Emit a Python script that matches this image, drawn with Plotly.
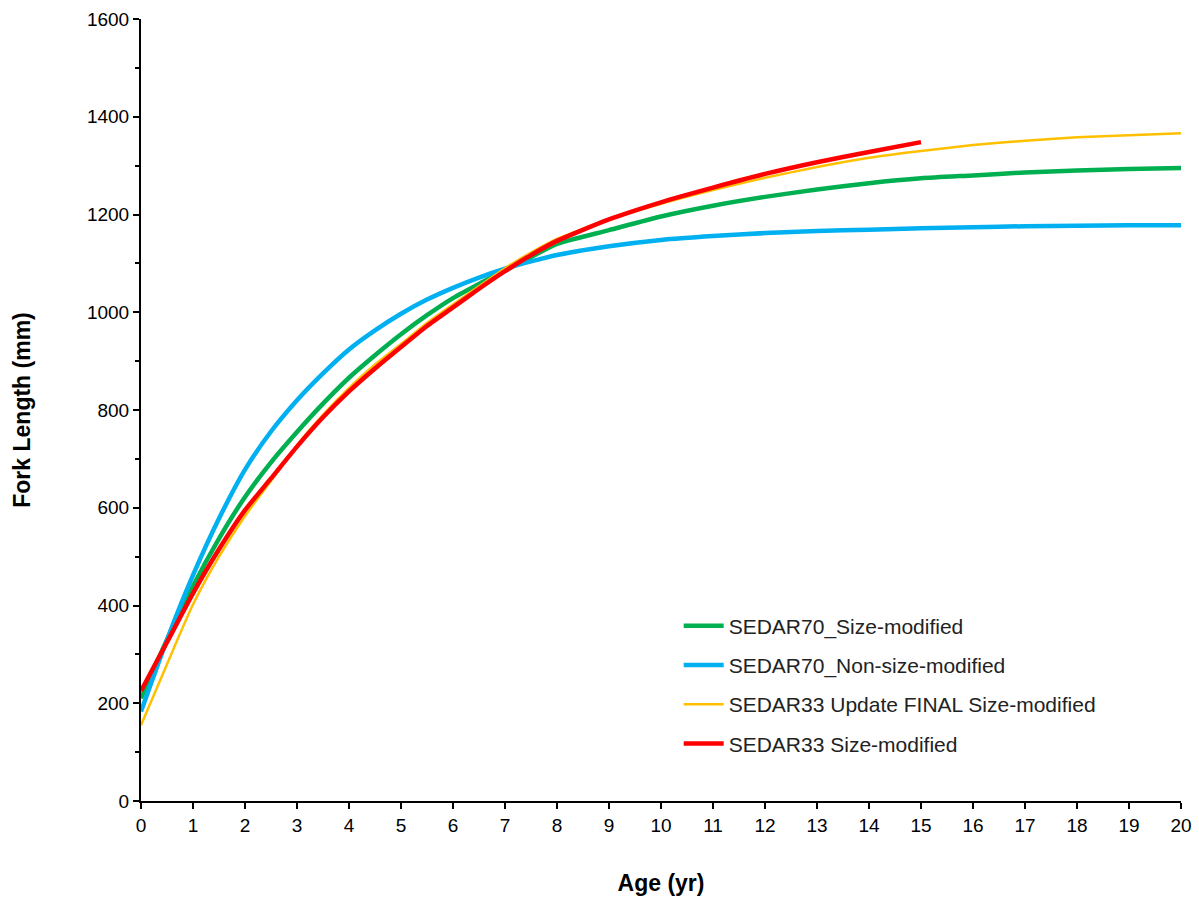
import plotly.graph_objects as go

age_early = [0, 0.5, 1, 1.5, 2, 2.5, 3, 3.5, 4, 4.5, 5, 5.5, 6, 6.5, 7, 7.5, 8,
             9, 10, 11, 12, 13, 14, 15, 16, 17, 18, 19, 20]
age_red = [0, 0.5, 1, 1.5, 2, 2.5, 3, 3.5, 4, 4.5, 5, 5.5, 6, 6.5, 7, 7.5, 8,
           9, 10, 11, 12, 13, 14, 15]

sedar70_size = [210, 330, 440, 537, 622, 693, 755, 813, 866, 912, 955, 994, 1029, 1058, 1085, 1113, 1140,
                1168, 1196, 1218, 1236, 1251, 1264, 1274, 1280, 1286, 1290, 1293, 1295]
sedar70_nonsize = [183, 330, 462, 578, 678, 756, 820, 875, 924, 963, 997, 1026, 1050, 1071, 1089, 1104, 1117,
                   1135, 1148, 1156, 1162, 1166, 1169, 1172, 1174, 1176, 1177, 1178, 1178]
sedar33_update = [155, 280, 402, 500, 583, 655, 728, 790, 845, 893, 935, 978, 1016, 1053, 1090, 1122, 1150,
                  1190, 1222, 1250, 1275, 1297, 1316, 1330, 1342, 1351, 1358, 1362, 1366]
sedar33_size = [225, 325, 425, 515, 595, 660, 725, 785, 838, 885, 929, 972, 1010, 1048, 1084, 1117, 1146,
                1190, 1225, 1255, 1283, 1307, 1328, 1348]

names = ["SEDAR70_Size-modified", "SEDAR70_Non-size-modified",
         "SEDAR33 Update FINAL Size-modified", "SEDAR33 Size-modified"]

fig = go.Figure()
fig.add_trace(go.Scatter(x=age_early, y=sedar70_size, mode="lines", name=names[0], legendgroup="a",
                         line=dict(color="#00B050", width=4.5, shape="spline", smoothing=0.6)))
fig.add_trace(go.Scatter(x=age_early, y=sedar70_nonsize, mode="lines", name=names[1], legendgroup="b",
                         line=dict(color="#00B0F0", width=4.5, shape="spline", smoothing=0.6)))
fig.add_trace(go.Scatter(x=age_early, y=sedar33_update, mode="lines", name=names[2], legendgroup="c",
                         line=dict(color="#FFC000", width=2.5, shape="spline", smoothing=0.6)))
fig.add_trace(go.Scatter(x=age_red, y=sedar33_size, mode="lines", name=names[3], legendgroup="d",
                         line=dict(color="#FF0000", width=4.5, shape="spline", smoothing=0.6)))

fig.update_layout(
    width=1199, height=906,
    margin=dict(l=141, r=18, t=19, b=105, autoexpand=False),
    paper_bgcolor="white", plot_bgcolor="white",
    font=dict(family="Liberation Sans, Arial, sans-serif", size=19, color="#000000"),
    showlegend=True,
    legend=dict(x=0.517, y=0.25, xanchor="left", yanchor="top",
                bgcolor="rgba(0,0,0,0)", font=dict(size=21, color="#222222"),
                tracegroupgap=9, itemwidth=40),
    xaxis=dict(range=[0, 20], tickmode="linear", tick0=0, dtick=1,
               showgrid=False, zeroline=False, showline=True, linecolor="black", linewidth=2,
               ticks="outside", ticklen=6, tickwidth=2, tickcolor="black",
               title=dict(text="<b>Age (yr)</b>", font=dict(size=23), standoff=40)),
    yaxis=dict(range=[0, 1600], tickmode="linear", tick0=0, dtick=200,
               showgrid=False, zeroline=False, showline=True, linecolor="black", linewidth=2,
               ticks="outside", ticklen=6, tickwidth=2, tickcolor="black",
               minor=dict(dtick=100, ticks="outside", ticklen=4, tickwidth=2, tickcolor="black"),
               title=dict(text="<b>Fork Length (mm)</b>", font=dict(size=23), standoff=50)),
)

fig.write_html("out.html")
